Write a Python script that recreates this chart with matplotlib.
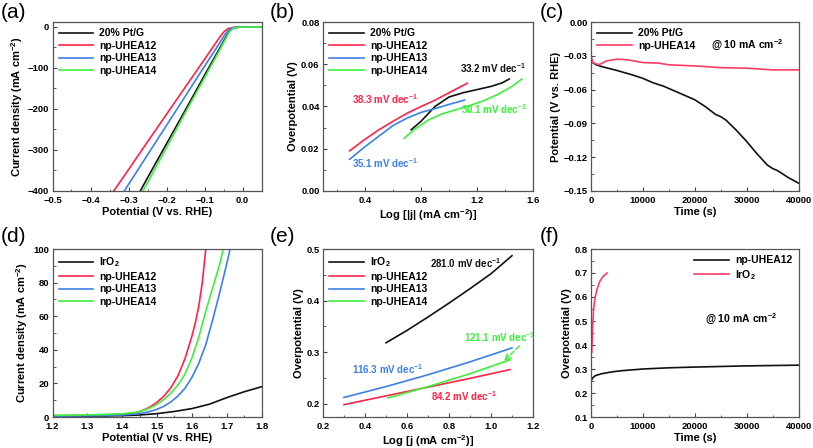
import matplotlib
matplotlib.use("Agg")
import matplotlib.pyplot as plt
from matplotlib.ticker import MultipleLocator

plt.rcParams['font.family'] = ['Liberation Sans', 'DejaVu Sans']
plt.rcParams['font.weight'] = 'bold'
plt.rcParams['mathtext.fontset'] = 'custom'
plt.rcParams['mathtext.rm'] = 'Liberation Sans:bold'
plt.rcParams['mathtext.bf'] = 'Liberation Sans:bold'
plt.rcParams['mathtext.default'] = 'bf'

BLACK = '#111111'
RED = '#ff2448'
BLUE = '#3d80e6'
GREEN = '#3ef03e'
RED_C = '#ff3c64'

# ---------- (a) HER LSV ----------
a_pt_x = [-0.269, -0.25, -0.20, -0.15, -0.10, -0.06, -0.045, -0.035, -0.025, -0.01, 0.0, 0.05]
a_pt_y = [-400, -368, -285, -202, -118, -52, -27, -10, -3, -0.5, 0, 0]
a_12_x = [-0.339, -0.30, -0.25, -0.20, -0.15, -0.10, -0.06, -0.048, -0.038, -0.025, -0.01, 0.0, 0.05]
a_12_y = [-400, -348, -280, -213, -146, -79, -25, -11, -4, -1.5, -0.5, 0, 0]
a_13_x = [-0.311, -0.30, -0.25, -0.20, -0.15, -0.10, -0.06, -0.045, -0.035, -0.025, -0.01, 0.0, 0.05]
a_13_y = [-400, -384, -312, -240, -168, -96, -39, -17, -6, -2, -0.5, 0, 0]
a_14_x = [-0.262, -0.25, -0.20, -0.15, -0.10, -0.06, -0.045, -0.035, -0.025, -0.01, 0.0, 0.05]
a_14_y = [-400, -380, -294, -208, -124, -56, -30, -12, -4, -1, -0.5, 0]

# ---------- (b) HER Tafel ----------
b_pt_x = [0.73, 0.80, 0.90, 1.00, 1.10, 1.20, 1.30, 1.38, 1.43]
b_pt_y = [0.029, 0.033, 0.040, 0.0445, 0.0465, 0.048, 0.0495, 0.0512, 0.053]
b_12_x = [0.29, 0.40, 0.50, 0.60, 0.70, 0.80, 0.90, 1.00, 1.13]
b_12_y = [0.019, 0.0245, 0.029, 0.033, 0.0368, 0.040, 0.043, 0.0465, 0.051]
b_13_x = [0.29, 0.40, 0.50, 0.60, 0.70, 0.80, 0.90, 1.00, 1.11]
b_13_y = [0.015, 0.021, 0.026, 0.031, 0.0345, 0.0372, 0.039, 0.041, 0.043]
b_14_x = [0.68, 0.75, 0.85, 0.95, 1.05, 1.15, 1.25, 1.35, 1.45, 1.52]
b_14_y = [0.025, 0.029, 0.0335, 0.0365, 0.0385, 0.0405, 0.0428, 0.0458, 0.0495, 0.053]
b_slopes = ['33.2', '38.3', '35.1', '30.1']

# ---------- (c) HER stability ----------
c_pt_t = [0, 300, 1000, 2000, 5000, 8000, 10000, 12000, 14000, 16000, 18000, 20000, 22000, 24000,
          25000, 26000, 28000, 30000, 32000, 34000, 35000, 36000, 38000, 40000]
c_pt_v = [-0.031, -0.036, -0.038, -0.0395, -0.043, -0.047, -0.050, -0.054, -0.057, -0.061, -0.065,
          -0.069, -0.075, -0.082, -0.084, -0.087, -0.096, -0.106, -0.117, -0.127, -0.130, -0.132,
          -0.138, -0.143]
c_14_t = [0, 300, 1500, 3000, 5000, 7000, 10000, 13000, 15000, 20000, 25000, 30000, 35000, 40000]
c_14_v = [-0.030, -0.036, -0.038, -0.0345, -0.033, -0.0335, -0.036, -0.0365, -0.038, -0.039,
          -0.0405, -0.041, -0.0425, -0.0425]

# ---------- (d) OER LSV ----------
d_ir_x = [1.20, 1.30, 1.40, 1.45, 1.50, 1.55, 1.60, 1.65, 1.70, 1.75, 1.80]
d_ir_y = [0.3, 0.5, 0.8, 1.2, 2.0, 3.3, 5.0, 7.6, 11.5, 15.0, 18.0]
d_12_x = [1.20, 1.30, 1.40, 1.44, 1.46, 1.48, 1.50, 1.52, 1.54, 1.56, 1.58, 1.60, 1.61, 1.62, 1.63, 1.64]
d_12_y = [0.8, 1.0, 1.6, 2.6, 4.0, 6.0, 8.8, 12.5, 17.5, 24.5, 34.5, 48.0, 56.0, 66.0, 80.0, 100.0]
d_13_x = [1.20, 1.30, 1.40, 1.44, 1.46, 1.48, 1.50, 1.52, 1.54, 1.56, 1.58, 1.60, 1.62, 1.64,
          1.66, 1.68, 1.70, 1.71]
d_13_y = [0.5, 0.7, 1.2, 1.8, 2.4, 3.3, 4.6, 6.4, 9.0, 12.5, 17.0, 23.5, 32.0, 43.0, 58.0, 74.0,
          91.0, 100.0]
d_14_x = [1.20, 1.30, 1.40, 1.44, 1.46, 1.48, 1.50, 1.52, 1.54, 1.56, 1.58, 1.60, 1.62, 1.64,
          1.66, 1.68, 1.69]
d_14_y = [1.0, 1.2, 1.9, 2.8, 3.8, 5.4, 7.6, 10.5, 14.2, 19.0, 25.5, 35.0, 47.5, 63.0, 77.0, 91.0, 100.0]

# ---------- (e) OER Tafel ----------
e_ir_x = [0.50, 0.60, 0.70, 0.80, 0.90, 1.00, 1.10]
e_ir_y = [0.318, 0.342, 0.368, 0.395, 0.423, 0.452, 0.487]
e_12_x = [0.30, 0.50, 0.70, 0.90, 1.09]
e_12_y = [0.198, 0.215, 0.232, 0.249, 0.266]
e_13_x = [0.30, 0.50, 0.70, 0.90, 1.10]
e_13_y = [0.212, 0.233, 0.256, 0.281, 0.308]
e_14_x = [0.51, 0.70, 0.90, 1.09]
e_14_y = [0.211, 0.233, 0.258, 0.285]
e_slopes = ['281.0', '84.2', '116.3', '121.1']

# ---------- (f) OER stability ----------
f_12_t = [0, 300, 800, 2000, 4000, 6000, 10000, 15000, 20000, 30000, 40000]
f_12_v = [0.250, 0.262, 0.272, 0.280, 0.288, 0.293, 0.300, 0.305, 0.308, 0.313, 0.316]
f_ir_t = [150, 300, 500, 800, 1200, 1700, 2300, 3100]
f_ir_v = [0.37, 0.47, 0.55, 0.60, 0.635, 0.665, 0.685, 0.700]

labels_her = ['20% Pt/G', 'np-UHEA12', 'np-UHEA13', 'np-UHEA14']
labels_oer = ['IrO$_2$', 'np-UHEA12', 'np-UHEA13', 'np-UHEA14']
colors = [BLACK, RED, BLUE, GREEN]

W, H = 813, 448
fig = plt.figure(figsize=(W / 100, H / 100), dpi=100)
TICK_FS = 6.8
LAB_FS = 8


def make_ax(l, r, t, b):
    return fig.add_axes([l / W, 1 - b / H, (r - l) / W, (b - t) / H])


def style(ax, xmaj, xmin, ymaj, ymin):
    ax.xaxis.set_major_locator(MultipleLocator(xmaj))
    ax.xaxis.set_minor_locator(MultipleLocator(xmin))
    ax.yaxis.set_major_locator(MultipleLocator(ymaj))
    ax.yaxis.set_minor_locator(MultipleLocator(ymin))
    ax.tick_params(which='both', direction='in', top=False, right=False, labelsize=TICK_FS)
    ax.tick_params(axis='x', which='both', pad=3.5)
    ax.tick_params(axis='y', which='both', pad=2.5)
    ax.tick_params(which='major', length=3, width=0.8, color='#444444')
    ax.tick_params(which='minor', length=1.8, width=0.6, color='#444444')
    for s in ax.spines.values():
        s.set_linewidth(0.9)
        s.set_color('#555555')
    for lab in ax.get_xticklabels() + ax.get_yticklabels():
        lab.set_fontweight('bold')


def leg(ax, loc, **kw):
    ax.legend(loc=loc, frameon=False, handlelength=3.3, handletextpad=0.6,
              labelspacing=0.25, borderaxespad=0.2, prop={'weight': 'bold', 'size': 7.5}, **kw)


LW = 1.2
top1, bot1 = 22, 191
top2, bot2 = 249, 417
lc1, rc1 = 52.5, 261.5
lc2, rc2 = 323, 533
lc3, rc3 = 591, 798.5

# (a)
ax = make_ax(lc1, rc1, top1, bot1)
for x, y, c, lab in zip([a_pt_x, a_12_x, a_13_x, a_14_x], [a_pt_y, a_12_y, a_13_y, a_14_y], colors, labels_her):
    ax.plot(x, y, color=c, lw=LW, label=lab)
ax.set_xlim(-0.5, 0.05)
ax.set_ylim(-400, 12)
style(ax, 0.1, 0.05, 100, 50)
ax.set_xlabel('Potential (V vs. RHE)', fontsize=LAB_FS, fontweight='bold', labelpad=1.5)
ax.set_ylabel('Current density (mA cm$^{-2}$)', fontsize=LAB_FS, fontweight='bold', labelpad=2)
leg(ax, 'upper left')

# (b)
ax = make_ax(lc2, rc2, top1, bot1)
for x, y, c, lab in zip([b_pt_x, b_12_x, b_13_x, b_14_x], [b_pt_y, b_12_y, b_13_y, b_14_y], colors, labels_her):
    ax.plot(x, y, color=c, lw=LW, label=lab)
ax.set_xlim(0.1, 1.6)
ax.set_ylim(0, 0.08)
style(ax, 0.4, 0.2, 0.02, 0.01)
ax.set_xlabel('Log [|j| (mA cm$^{-2}$)]', fontsize=LAB_FS, fontweight='bold', labelpad=1.5)
ax.set_ylabel('Overpotential (V)', fontsize=LAB_FS, fontweight='bold', labelpad=2)
leg(ax, 'upper left')
b_pos = [(1.317, 0.0582), (0.545, 0.0433), (0.545, 0.0130), (1.325, 0.0390)]
for (x, y), s, c in zip(b_pos, b_slopes, colors):
    ax.text(x, y, s + ' mV dec$^{-1}$', color=c, fontsize=7, fontweight='bold', ha='center', va='center')

# (c)
ax = make_ax(lc3, rc3, top1, bot1)
ax.plot(c_pt_t, c_pt_v, color=BLACK, lw=LW, label='20% Pt/G')
ax.plot(c_14_t, c_14_v, color=RED_C, lw=LW, label='np-UHEA14')
ax.set_xlim(0, 40000)
ax.set_ylim(-0.15, 0)
style(ax, 10000, 5000, 0.03, 0.015)
ax.set_xlabel('Time (s)', fontsize=LAB_FS, fontweight='bold', labelpad=1.5)
ax.set_ylabel('Potential (V vs. RHE)', fontsize=LAB_FS, fontweight='bold', labelpad=2)
leg(ax, 'upper left')
ax.text(23100, -0.0205, '@ 10 mA cm$^{-2}$', fontsize=7.5, fontweight='bold', ha='left', va='center')

# (d)
ax = make_ax(lc1, rc1, top2, bot2)
for x, y, c, lab in zip([d_ir_x, d_12_x, d_13_x, d_14_x], [d_ir_y, d_12_y, d_13_y, d_14_y], colors, labels_oer):
    ax.plot(x, y, color=c, lw=LW, label=lab)
ax.set_xlim(1.2, 1.8)
ax.set_ylim(0, 100)
style(ax, 0.1, 0.05, 20, 10)
ax.set_xlabel('Potential (V vs. RHE)', fontsize=LAB_FS, fontweight='bold', labelpad=1.5)
ax.set_ylabel('Current density (mA cm$^{-2}$)', fontsize=LAB_FS, fontweight='bold', labelpad=2)
leg(ax, 'upper left')

# (e)
ax = make_ax(lc2, rc2, top2, bot2)
for x, y, c, lab in zip([e_ir_x, e_12_x, e_13_x, e_14_x], [e_ir_y, e_12_y, e_13_y, e_14_y], colors, labels_oer):
    ax.plot(x, y, color=c, lw=LW, label=lab)
ax.set_xlim(0.2, 1.2)
ax.set_ylim(0.174, 0.5)
style(ax, 0.2, 0.1, 0.1, 0.05)
ax.set_xlabel('Log [j (mA cm$^{-2}$)]', fontsize=LAB_FS, fontweight='bold', labelpad=1.5)
ax.set_ylabel('Overpotential (V)', fontsize=LAB_FS, fontweight='bold', labelpad=2)
leg(ax, 'upper left')
e_pos = [(0.879, 0.472), (0.872, 0.214), (0.507, 0.2665), (1.041, 0.329)]
for (x, y), s, c in zip(e_pos, e_slopes, colors):
    ax.text(x, y, s + ' mV dec$^{-1}$', color=c, fontsize=7, fontweight='bold', ha='center', va='center')
ax.annotate('', xy=(1.062, 0.283), xytext=(1.135, 0.312),
            arrowprops=dict(arrowstyle='->', color=GREEN, lw=1.0, linestyle='--', shrinkA=0, shrinkB=0))

# (f)
ax = make_ax(lc3, rc3, top2, bot2)
ax.plot(f_12_t, f_12_v, color=BLACK, lw=LW, label='np-UHEA12')
ax.plot(f_ir_t, f_ir_v, color=RED_C, lw=LW, label='IrO$_2$')
ax.set_xlim(0, 40000)
ax.set_ylim(0.1, 0.8)
style(ax, 10000, 5000, 0.1, 0.05)
ax.set_xlabel('Time (s)', fontsize=LAB_FS, fontweight='bold', labelpad=1.5)
ax.set_ylabel('Overpotential (V)', fontsize=LAB_FS, fontweight='bold', labelpad=2)
leg(ax, 'upper right')
ax.text(22000, 0.508, '@ 10 mA cm$^{-2}$', fontsize=7.5, fontweight='bold', ha='left', va='center')

# panel letters
for lab, x, y in [('(a)', 1, 12), ('(b)', 270, 12), ('(c)', 540, 12),
                  ('(d)', 1, 237), ('(e)', 270, 237), ('(f)', 540, 237)]:
    fig.text(x / W, 1 - y / H, lab, fontsize=15, fontweight='normal', ha='left', va='center',
             family=['Liberation Sans', 'DejaVu Sans'])

fig.savefig('out.png', dpi=100)
